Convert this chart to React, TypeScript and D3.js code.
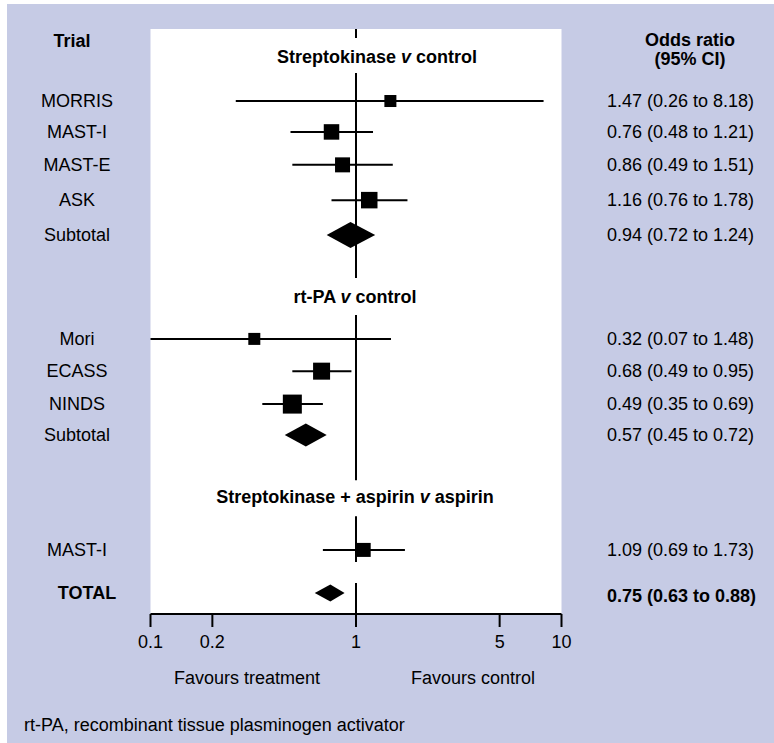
import React from "react";
import * as d3 from "d3";

// ---- data ----
const trialNames = ["MORRIS", "MAST-I", "MAST-E", "ASK", "Subtotal", "Mori", "ECASS", "NINDS", "Subtotal", "MAST-I", "TOTAL"];
const rowKinds = ["trial", "trial", "trial", "trial", "pooled", "trial", "trial", "trial", "pooled", "trial", "total"];
const oddsRatio = [1.47, 0.76, 0.86, 1.16, 0.94, 0.32, 0.68, 0.49, 0.57, 1.09, 0.75];
const ciLow = [0.26, 0.48, 0.49, 0.76, 0.72, 0.07, 0.49, 0.35, 0.45, 0.69, 0.63];
const ciHigh = [8.18, 1.21, 1.51, 1.78, 1.24, 1.48, 0.95, 0.69, 0.72, 1.73, 0.88];
const markerWeight = [1.44, 2.4, 2.25, 2.72, 6.76, 1.44, 2.89, 3.61, 5.29, 1.96, 2.89];
const groupTitles = [
  ["Streptokinase ", "v", " control"],
  ["rt-PA ", "v", " control"],
  ["Streptokinase + aspirin ", "v", " aspirin"],
];
const tickValues = [0.1, 0.2, 1, 5, 10];

// layout (row slots, 1 slot = one row step)
const rowSlot = [1.31, 2.23, 3.21, 4.26, 5.3, 8.39, 9.35, 10.33, 11.25, 14.67, 15.95];
const headerSlot = [0, 7.14, 13.1];

const FONT = "Arial, 'Liberation Sans', Helvetica, sans-serif";
const BG = "#c6cbe5";

export default function App() {
  const W = 774, H = 743;
  const x = d3.scaleLog().domain([0.1, 10]).range([150.5, 561.5]);
  const y = d3.scaleLinear().domain([0, 1]).range([57, 90.6]);
  const size = d3.scaleSqrt().domain([0, 4]).range([0, 20]);
  const panelTop = 29, axisY = 614;

  const hy = headerSlot.map((s) => y(s));
  const mast3 = y(rowSlot[9]);
  const tot = y(rowSlot[10]);
  const refSegments: [number, number][] = [
    [panelTop, hy[0] - 19],
    [hy[0] + 16, hy[1] - 19],
    [hy[1] + 18, hy[2] - 17],
    [hy[2] + 19, mast3 + 12],
    [tot - 10, axisY],
  ];

  const fmt = (v: number) => v.toFixed(2);

  return (
    <div style={{ position: "absolute", left: 0, top: 0 }}>
      <svg width={W} height={H} style={{ display: "block" }} fontFamily={FONT}>
        <rect x={0} y={0} width={W} height={H} fill="#ffffff" />
        <rect x={7} y={4} width={W - 7} height={H - 4} fill={BG} />
        <rect x={x(0.1)} y={panelTop} width={x(10) - x(0.1)} height={axisY - panelTop} fill="#ffffff" />

        {/* column headers */}
        <text x={72} y={47} textAnchor="middle" fontSize={18} fontWeight="bold">Trial</text>
        <text x={690} y={46} textAnchor="middle" fontSize={18} fontWeight="bold">Odds ratio</text>
        <text x={690} y={65} textAnchor="middle" fontSize={18} fontWeight="bold">(95% CI)</text>

        {/* reference line at OR = 1 */}
        {refSegments.map(([a, b], i) => (
          <line key={"r" + i} x1={x(1)} x2={x(1)} y1={a} y2={b} stroke="#000" strokeWidth={2} />
        ))}

        {/* group titles */}
        {groupTitles.map((t, i) => {
          const cx = i === 0 ? 377 : 355;
          return (
            <text key={"g" + i} x={cx} y={hy[i]} dy="0.35em" textAnchor="middle" fontSize={18} fontWeight="bold">
              {t[0]}
              <tspan fontStyle="italic">{t[1]}</tspan>
              {t[2]}
            </text>
          );
        })}

        {/* rows */}
        {trialNames.map((name, i) => {
          const cy = y(rowSlot[i]);
          const kind = rowKinds[i];
          const lo = Math.max(ciLow[i], 0.1);
          const hi = Math.min(ciHigh[i], 10);
          const isTotal = kind === "total";
          const labelX = isTotal ? 87 : 77;
          let mark;
          if (kind === "trial") {
            const s = size(markerWeight[i]);
            mark = (
              <g>
                <line x1={x(lo)} x2={x(hi)} y1={cy} y2={cy} stroke="#000" strokeWidth={2} />
                <rect x={x(oddsRatio[i]) - s / 2} y={cy - s / 2} width={s} height={s} fill="#000" />
              </g>
            );
          } else {
            const h = size(markerWeight[i]);
            const pts = [
              [x(lo), cy],
              [x(oddsRatio[i]), cy - h / 2],
              [x(hi), cy],
              [x(oddsRatio[i]), cy + h / 2],
            ];
            mark = <path d={d3.line()(pts as [number, number][]) + "Z"} fill="#000" />;
          }
          return (
            <g key={"row" + i}>
              <text x={labelX} y={cy} dy="0.35em" textAnchor="middle" fontSize={18} fontWeight={isTotal ? "bold" : "normal"}>
                {name}
              </text>
              {mark}
              <text x={607} y={cy + (isTotal ? 3 : 0)} dy="0.35em" fontSize={18} fontWeight={isTotal ? "bold" : "normal"}>
                {`${fmt(oddsRatio[i])} (${fmt(ciLow[i])} to ${fmt(ciHigh[i])})`}
              </text>
            </g>
          );
        })}

        {/* x axis */}
        <line x1={x(0.1)} x2={x(10)} y1={axisY} y2={axisY} stroke="#000" strokeWidth={2} />
        {tickValues.map((t) => (
          <g key={"t" + t}>
            <line x1={x(t)} x2={x(t)} y1={axisY} y2={axisY + 13} stroke="#000" strokeWidth={2} />
            <text x={x(t)} y={648} textAnchor="middle" fontSize={18}>{String(t)}</text>
          </g>
        ))}
        <text x={247} y={684} textAnchor="middle" fontSize={18}>Favours treatment</text>
        <text x={473} y={684} textAnchor="middle" fontSize={18}>Favours control</text>

        <text x={24} y={731} fontSize={18}>rt-PA, recombinant tissue plasminogen activator</text>
      </svg>
    </div>
  );
}
